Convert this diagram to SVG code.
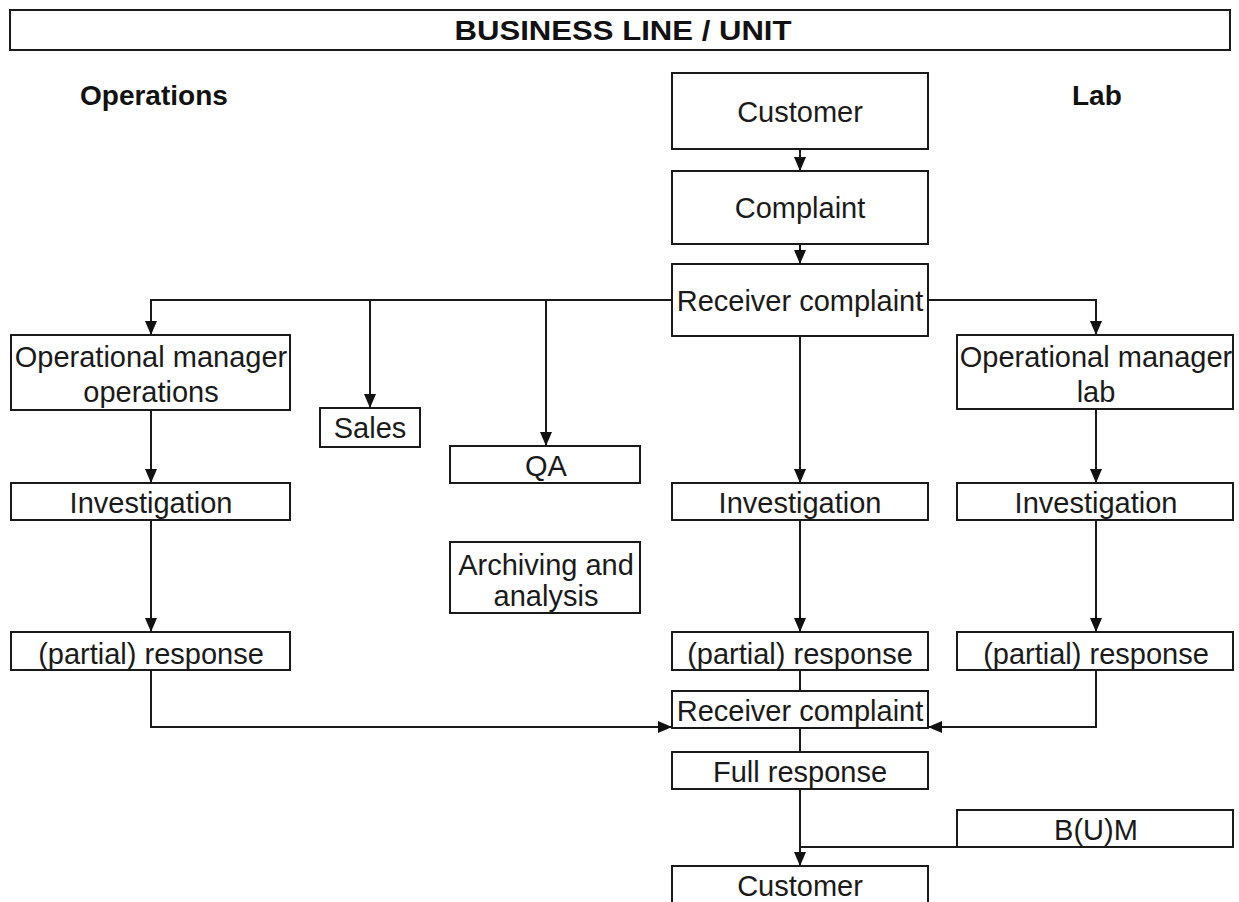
<svg xmlns="http://www.w3.org/2000/svg" width="1239" height="902" viewBox="0 0 1239 902">
<style>
.box{fill:#fff;stroke:#1a1a1a;stroke-width:2}
.t{font-family:"Liberation Sans",Arial,sans-serif;font-size:29px;fill:#1a1a1a;text-anchor:middle}
.h{font-family:"Liberation Sans",Arial,sans-serif;font-size:28px;font-weight:bold;fill:#111}
.ln{fill:none;stroke:#1a1a1a;stroke-width:2}
</style>
<defs>
<marker id="ah" viewBox="0 0 14 12" refX="14" refY="6" markerWidth="14" markerHeight="12" markerUnits="userSpaceOnUse" orient="auto">
<path d="M0,0 L14,6 L0,12 z" fill="#111"/>
</marker>
</defs>
<rect width="1239" height="902" fill="#fff"/>
<g id="title">
<rect class="box" x="10" y="10" width="1220" height="40"/>
<text x="623" y="40" class="h" font-size="30" text-anchor="middle" textLength="337" lengthAdjust="spacingAndGlyphs">BUSINESS LINE / UNIT</text>
</g>
<g id="lane-operations"><text x="80" y="105" class="h">Operations</text></g>
<g id="lane-lab"><text x="1072" y="105" class="h">Lab</text></g>

<g id="connectors">
<path class="ln" d="M800,149 V171" marker-end="url(#ah)"/>
<path class="ln" d="M800,244 V264" marker-end="url(#ah)"/>
<path class="ln" d="M672,300 H151 V335" marker-end="url(#ah)"/>
<path class="ln" d="M370,300 V408" marker-end="url(#ah)"/>
<path class="ln" d="M546,300 V446" marker-end="url(#ah)"/>
<path class="ln" d="M928,300 H1096 V335" marker-end="url(#ah)"/>
<path class="ln" d="M151,410 V483" marker-end="url(#ah)"/>
<path class="ln" d="M800,336 V483" marker-end="url(#ah)"/>
<path class="ln" d="M1096,410 V483" marker-end="url(#ah)"/>
<path class="ln" d="M151,520 V632" marker-end="url(#ah)"/>
<path class="ln" d="M800,520 V632" marker-end="url(#ah)"/>
<path class="ln" d="M1096,520 V632" marker-end="url(#ah)"/>
<path class="ln" d="M800,670 V691"/>
<path class="ln" d="M151,670 V727 H672" marker-end="url(#ah)"/>
<path class="ln" d="M1096,670 V727 H928" marker-end="url(#ah)"/>
<path class="ln" d="M800,728 V752"/>
<path class="ln" d="M957,847 H800"/>
<path class="ln" d="M800,789 V866" marker-end="url(#ah)"/>
</g>

<g id="customer-top"><rect class="box" x="672" y="73" width="256" height="76"/><text class="t" x="800" y="122">Customer</text></g>
<g id="complaint"><rect class="box" x="672" y="171" width="256" height="73"/><text class="t" x="800" y="218">Complaint</text></g>
<g id="receiver-complaint"><rect class="box" x="672" y="264" width="256" height="72"/><text class="t" x="800" y="311">Receiver complaint</text></g>

<g id="opmgr-ops"><rect class="box" x="11" y="335" width="279" height="75"/><text class="t" x="151" y="367">Operational manager</text><text class="t" x="151" y="402">operations</text></g>
<g id="sales"><rect class="box" x="320" y="408" width="100" height="39"/><text class="t" x="370" y="438">Sales</text></g>
<g id="qa"><rect class="box" x="450" y="446" width="190" height="37"/><text class="t" x="546" y="476">QA</text></g>
<g id="archiving"><rect class="box" x="450" y="542" width="190" height="71"/><text class="t" x="546" y="575">Archiving and</text><text class="t" x="546" y="606">analysis</text></g>
<g id="opmgr-lab"><rect class="box" x="957" y="335" width="276" height="74"/><text class="t" x="1096" y="367">Operational manager</text><text class="t" x="1096" y="402">lab</text></g>

<g id="inv-ops"><rect class="box" x="11" y="483" width="279" height="37"/><text class="t" x="151" y="513">Investigation</text></g>
<g id="inv-center"><rect class="box" x="672" y="483" width="256" height="37"/><text class="t" x="800" y="513">Investigation</text></g>
<g id="inv-lab"><rect class="box" x="957" y="483" width="276" height="37"/><text class="t" x="1096" y="513">Investigation</text></g>

<g id="resp-ops"><rect class="box" x="11" y="632" width="279" height="38"/><text class="t" x="151" y="664">(partial) response</text></g>
<g id="resp-center"><rect class="box" x="672" y="632" width="256" height="38"/><text class="t" x="800" y="664">(partial) response</text></g>
<g id="resp-lab"><rect class="box" x="957" y="632" width="276" height="38"/><text class="t" x="1096" y="664">(partial) response</text></g>

<g id="receiver-complaint-2"><rect class="box" x="672" y="691" width="256" height="37"/><text class="t" x="800" y="721">Receiver complaint</text></g>
<g id="full-response"><rect class="box" x="672" y="752" width="256" height="37"/><text class="t" x="800" y="782">Full response</text></g>
<g id="bum"><rect class="box" x="957" y="810" width="276" height="37"/><text class="t" x="1096" y="840">B(U)M</text></g>
<g id="customer-bottom"><rect class="box" x="672" y="866" width="256" height="50"/><text class="t" x="800" y="896">Customer</text></g>
</svg>
